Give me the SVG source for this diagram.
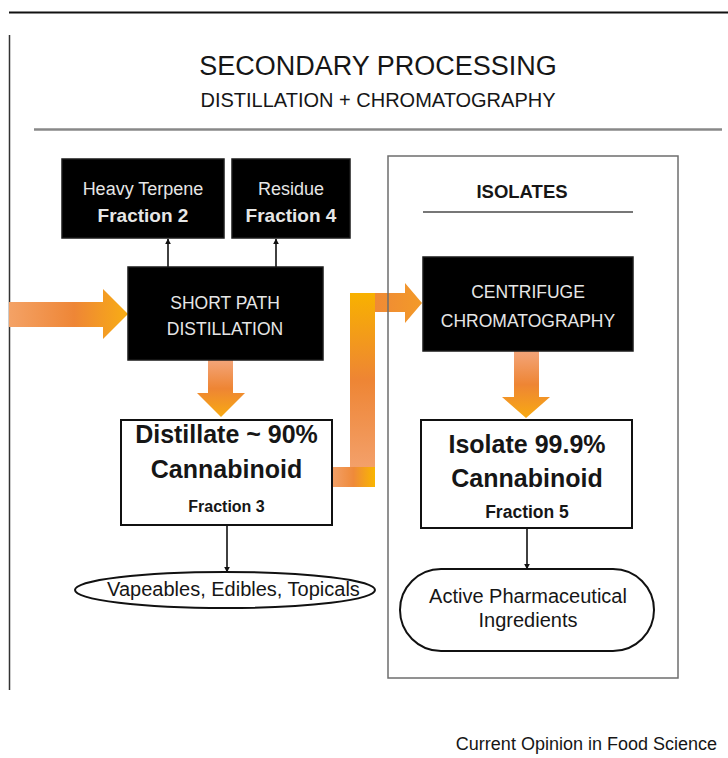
<svg xmlns="http://www.w3.org/2000/svg" width="728" height="758" viewBox="0 0 728 758">
<defs>
<style>
text{font-family:"Liberation Sans",Arial,Helvetica,sans-serif;text-anchor:middle}
.blk{fill:#000;stroke:#1a1a1a;stroke-width:1.5}
.wbox{fill:#fff;stroke:#111;stroke-width:2}
.lt{fill:#e6e6e6}
.dk{fill:#161616}
.b{font-weight:bold}
.conn{stroke:#111;stroke-width:1.6;fill:none}
</style>
<marker id="ah" viewBox="0 0 10 10" refX="9" refY="5" markerWidth="6" markerHeight="6" markerUnits="userSpaceOnUse" orient="auto">
<path d="M0,0 L10,5 L0,10 z" fill="#111"/>
</marker>
<linearGradient id="gIn" x1="0" y1="0" x2="1" y2="0">
<stop offset="0" stop-color="#f4a266"/>
<stop offset="0.55" stop-color="#ee8636"/>
<stop offset="1" stop-color="#f8ad14"/>
</linearGradient>
<linearGradient id="gDown" x1="0" y1="0" x2="0" y2="1">
<stop offset="0" stop-color="#f3a57a"/>
<stop offset="0.5" stop-color="#ee8534"/>
<stop offset="1" stop-color="#f8aa12"/>
</linearGradient>
<linearGradient id="gVert" x1="0" y1="0" x2="0" y2="1">
<stop offset="0" stop-color="#f8b100"/>
<stop offset="0.5" stop-color="#ee8534"/>
<stop offset="1" stop-color="#f3a06a"/>
</linearGradient>
<linearGradient id="gBot" x1="0" y1="0" x2="1" y2="0">
<stop offset="0" stop-color="#f2a068"/>
<stop offset="0.5" stop-color="#ef8a3a"/>
<stop offset="1" stop-color="#f9b600"/>
</linearGradient>
<linearGradient id="gTop" x1="0" y1="0" x2="1" y2="0">
<stop offset="0" stop-color="#ef8a36"/>
<stop offset="1" stop-color="#f39a28"/>
</linearGradient>
</defs>
<rect x="0" y="0" width="728" height="758" fill="#fff"/>

<g id="frame">
<line x1="9" y1="12.5" x2="728" y2="12.5" stroke="#111" stroke-width="2"/>
<line x1="9.5" y1="35" x2="9.5" y2="690" stroke="#333" stroke-width="1.5"/>
<line x1="34" y1="129.5" x2="722" y2="129.5" stroke="#888" stroke-width="2.5"/>
</g>

<g id="title">
<text x="378" y="75" font-size="27" class="dk">SECONDARY PROCESSING</text>
<text x="378" y="107" font-size="20" class="dk">DISTILLATION + CHROMATOGRAPHY</text>
</g>

<g id="orange-arrows">
<path d="M9,302 H103 V289 L128,314 L103,339 V327 H9 Z" fill="url(#gIn)"/>
<path d="M208,360 H233 V393 H245 L221,417 L197,393 H208 Z" fill="url(#gDown)"/>
<path d="M514,351 H539 V397 H550 L526,418 L502,397 H514 Z" fill="url(#gDown)"/>
<rect x="332" y="467" width="43" height="20" fill="url(#gBot)"/>
<rect x="350" y="293" width="25" height="174" fill="url(#gVert)"/>
<path d="M375,293 H405 V283 L422,303 L405,323 V312 H375 Z" fill="url(#gTop)"/>
</g>

<g id="isolates-group">
<rect x="388" y="156" width="290" height="522" fill="none" stroke="#6e6e6e" stroke-width="1.5"/>
<text x="522" y="198" font-size="18.5" class="dk b">ISOLATES</text>
<line x1="423" y1="212" x2="633" y2="212" stroke="#777" stroke-width="2"/>
</g>

<g id="connectors">
<line class="conn" x1="168" y1="267" x2="168" y2="239" marker-end="url(#ah)"/>
<line class="conn" x1="276" y1="267" x2="276" y2="239" marker-end="url(#ah)"/>
<line class="conn" x1="227" y1="525" x2="227" y2="572" marker-end="url(#ah)"/>
<line class="conn" x1="527" y1="528" x2="527" y2="569" marker-end="url(#ah)"/>
</g>

<g id="heavy-terpene">
<rect class="blk" x="62" y="159" width="162" height="79"/>
<text x="143" y="195" font-size="18" class="lt">Heavy Terpene</text>
<text x="143" y="222" font-size="19" class="lt b">Fraction 2</text>
</g>

<g id="residue">
<rect class="blk" x="232" y="159" width="118" height="79"/>
<text x="291" y="195" font-size="18" class="lt">Residue</text>
<text x="291" y="222" font-size="19" class="lt b">Fraction 4</text>
</g>

<g id="short-path">
<rect class="blk" x="128" y="267" width="195" height="93"/>
<text x="225" y="309" font-size="17.5" class="lt">SHORT PATH</text>
<text x="225" y="335" font-size="17.5" class="lt">DISTILLATION</text>
</g>

<g id="distillate">
<rect class="wbox" x="121" y="420" width="211" height="105"/>
<text x="226.5" y="443" font-size="25" class="dk b">Distillate ~ 90%</text>
<text x="226.5" y="478" font-size="25" class="dk b">Cannabinoid</text>
<text x="226.5" y="512" font-size="16" class="dk b">Fraction 3</text>
</g>

<g id="vapeables">
<ellipse cx="225" cy="590" rx="150" ry="18" fill="#fff" stroke="#111" stroke-width="2"/>
<text x="233.5" y="596" font-size="20" class="dk">Vapeables, Edibles, Topicals</text>
</g>

<g id="centrifuge">
<rect class="blk" x="423" y="257" width="210" height="94"/>
<text x="528" y="298" font-size="17.5" class="lt">CENTRIFUGE</text>
<text x="528" y="327" font-size="17.5" class="lt">CHROMATOGRAPHY</text>
</g>

<g id="isolate">
<rect class="wbox" x="421" y="420" width="211" height="108"/>
<text x="527" y="453" font-size="25" class="dk b">Isolate 99.9%</text>
<text x="527" y="487" font-size="25" class="dk b">Cannabinoid</text>
<text x="527" y="518" font-size="17.5" class="dk b">Fraction 5</text>
</g>

<g id="api">
<rect x="400" y="569" width="254" height="82" rx="41" ry="41" fill="#fff" stroke="#111" stroke-width="2"/>
<text x="528" y="603" font-size="20" class="dk">Active Pharmaceutical</text>
<text x="528" y="627" font-size="20" class="dk">Ingredients</text>
</g>

<g id="credit">
<text x="717" y="750" font-size="18" class="dk" style="text-anchor:end">Current Opinion in Food Science</text>
</g>
</svg>
